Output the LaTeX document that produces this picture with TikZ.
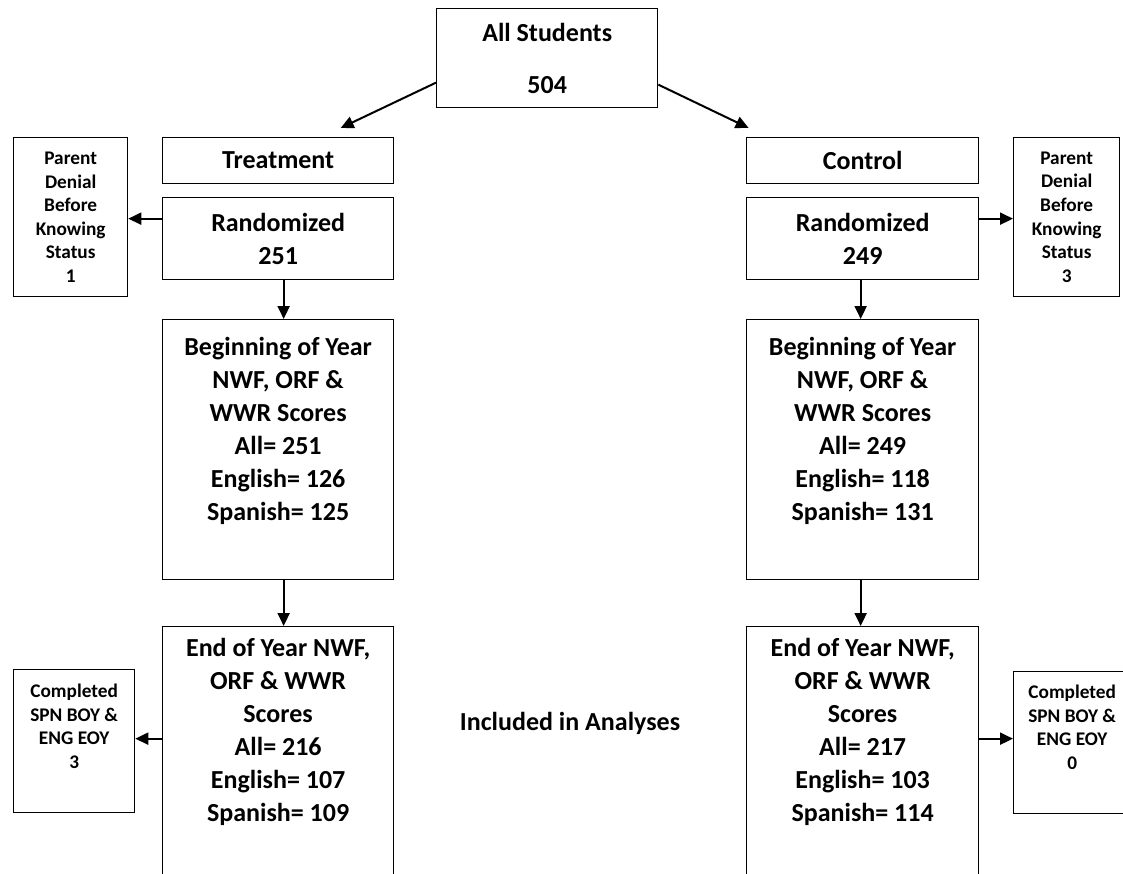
\documentclass[tikz,border=0pt]{standalone}
\usepackage{fontspec}
\setmainfont{Carlito}
\usetikzlibrary{arrows.meta,calc}
\newcommand\bigtxt{\fontsize{26}{33}\selectfont\bfseries}
\newcommand\smalltxt{\fontsize{19.3}{23.6}\selectfont\bfseries}
\begin{document}
\begin{tikzpicture}[x=1pt,y=-1pt,
  box/.style={draw=black,line width=1.3pt,inner sep=0pt,anchor=north west,align=center,font=\bigtxt},
  sbox/.style={box,font=\smalltxt},
  txt/.style={inner sep=0pt,align=center,font=\bigtxt},
  stxt/.style={inner sep=0pt,align=center,font=\smalltxt},
  arr/.style={line width=2pt,-{Triangle[length=13pt,width=12pt]}}
]
\useasboundingbox (0,0) rectangle (1123,874);
\clip (0,0) rectangle (1123,874);

% top
\node[box,minimum width=221pt,minimum height=99pt,font={\fontsize{26}{52}\selectfont\bfseries}] (all) at (436,8) {All Students\\504};

% treatment side
\node[box,minimum width=231pt,minimum height=46pt] (treat) at (162,137) {Treatment};
\node[box,minimum width=231pt,minimum height=82pt] (randL) at (162,197) {Randomized\\251};
\node[sbox,minimum width=114pt,minimum height=159pt] (pdL) at (13,137) {Parent\\Denial\\Before\\Knowing\\Status\\1};
\node[box,minimum width=231pt,minimum height=260pt] (boyL) at (162,319) {};
\node[txt,anchor=north] (boyLt) at ($(boyL.north)+(0,18)$) {Beginning of Year\\NWF, ORF \&\\WWR Scores\\All= 251\\English= 126\\Spanish= 125};
\node[box,minimum width=231pt,minimum height=280pt] (eoyL) at (162,626) {};
\node[txt,anchor=north] (eoyLt) at ($(eoyL.north)+(0,12)$) {End of Year NWF,\\ORF \& WWR\\Scores\\All= 216\\English= 107\\Spanish= 109};
\node[sbox,minimum width=121pt,minimum height=143pt] (compL) at (13,669) {};
\node[stxt,anchor=north] (compLt) at ($(compL.north)+(0,15)$) {Completed\\SPN BOY \&\\ENG EOY\\3};

% control side
\node[box,minimum width=232pt,minimum height=46pt] (ctrl) at (746,137) {Control};
\node[box,minimum width=232pt,minimum height=82pt] (randR) at (746,197) {Randomized\\249};
\node[sbox,minimum width=106pt,minimum height=159pt] (pdR) at (1013,137) {Parent\\Denial\\Before\\Knowing\\Status\\3};
\node[box,minimum width=232pt,minimum height=260pt] (boyR) at (746,319) {};
\node[txt,anchor=north] (boyRt) at ($(boyR.north)+(0,18)$) {Beginning of Year\\NWF, ORF \&\\WWR Scores\\All= 249\\English= 118\\Spanish= 131};
\node[box,minimum width=232pt,minimum height=280pt] (eoyR) at (746,626) {};
\node[txt,anchor=north] (eoyRt) at ($(eoyR.north)+(0,12)$) {End of Year NWF,\\ORF \& WWR\\Scores\\All= 217\\English= 103\\Spanish= 114};
\node[sbox,minimum width=117pt,minimum height=142pt] (compR) at (1013,671) {};
\node[stxt,anchor=north] (compRt) at ($(compR.north)+(0,14)$) {Completed\\SPN BOY \&\\ENG EOY\\0};

\node[txt] (inc) at (570,723) {Included in Analyses};

% connectors
\draw[arr] ($(all.west)+(0,24.5)$) -- ($(treat.north)+(62.5,-9)$);
\draw[arr] ($(all.east)+(0,26.5)$) -- ($(ctrl.north)+(-114,-9)$);
\draw[arr] ($(randL.west)+(0,-20)$) -- ($(pdL.east)+(0,1.5)$);
\draw[arr] ($(randR.east)+(0,-20)$) -- ($(pdR.west)+(0,1.5)$);
\draw[arr] ($(randL.south)+(5.5,0)$) -- ($(boyL.north)+(5.5,0)$);
\draw[arr] ($(randR.south)+(-2,0)$) -- ($(boyR.north)+(-2,0)$);
\draw[arr] ($(boyL.south)+(5.5,0)$) -- ($(eoyL.north)+(5.5,0)$);
\draw[arr] ($(boyR.south)+(-2,0)$) -- ($(eoyR.north)+(-2,0)$);
\draw[arr] ($(eoyL.west)+(0,-28)$) -- ($(compL.east)+(0,-2.5)$);
\draw[arr] ($(eoyR.east)+(0,-28)$) -- ($(compR.west)+(0,-4)$);
\end{tikzpicture}
\end{document}
